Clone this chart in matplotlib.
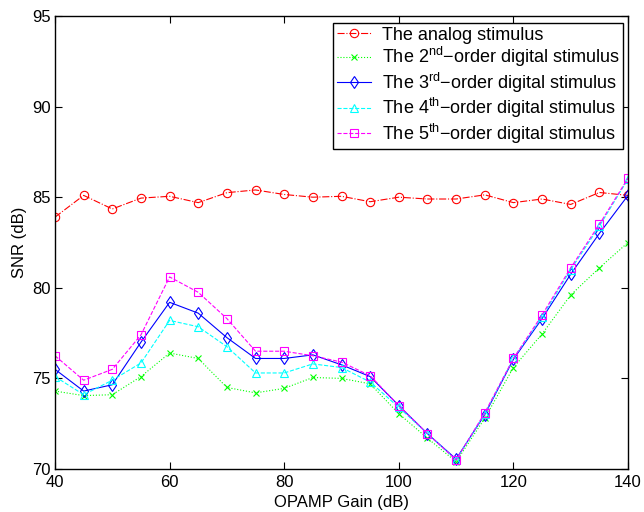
import matplotlib
matplotlib.use('Agg')
import matplotlib.pyplot as plt
import numpy as np

plt.rcParams['font.family'] = ['Liberation Sans', 'DejaVu Sans']
plt.rcParams['mathtext.fontset'] = 'custom'
plt.rcParams['mathtext.rm'] = 'Liberation Sans'
plt.rcParams['mathtext.it'] = 'Liberation Sans:italic'

# OPAMP gain sweep (dB)
gain = [40, 45, 50, 55, 60, 65, 70, 75, 80, 85, 90, 95, 100,
        105, 110, 115, 120, 125, 130, 135, 140]

# SNR (dB) for each stimulus
snr_analog = [83.9, 85.1, 84.35, 84.95, 85.05, 84.7, 85.25, 85.4, 85.15, 85.0, 85.05,
              84.75, 85.0, 84.9, 84.9, 85.13, 84.7, 84.9, 84.6, 85.26, 85.1]
snr_2nd = [74.3, 74.05, 74.1, 75.1, 76.4, 76.1, 74.5, 74.2, 74.45, 75.05, 75.0,
           74.7, 73.05, 71.7, 70.4, 72.8, 75.6, 77.45, 79.6, 81.1, 82.5]
snr_3rd = [75.5, 74.3, 74.65, 77.0, 79.2, 78.6, 77.25, 76.1, 76.1, 76.3, 75.75,
           75.1, 73.5, 71.95, 70.55, 73.0, 76.05, 78.3, 80.75, 83.0, 85.1]
snr_4th = [75.1, 74.1, 74.9, 75.85, 78.2, 77.85, 76.75, 75.3, 75.3, 75.8, 75.6,
           74.8, 73.4, 71.95, 70.5, 73.05, 76.1, 78.4, 81.0, 83.4, 86.0]
snr_5th = [76.25, 74.9, 75.5, 77.4, 80.6, 79.75, 78.3, 76.5, 76.5, 76.25, 75.9,
           75.15, 73.5, 71.95, 70.5, 73.1, 76.1, 78.5, 81.1, 83.5, 86.05]

labels = ['The analog stimulus',
          'The 2$^{\\rm nd}$\u2212order digital stimulus',
          'The 3$^{\\rm rd}$\u2212order digital stimulus',
          'The 4$^{\\rm th}$\u2212order digital stimulus',
          'The 5$^{\\rm th}$\u2212order digital stimulus']

fig = plt.figure(figsize=(6.44, 5.12), dpi=100)
ax = fig.add_axes([55/644, 1 - 469/512, (628 - 55)/644, (469 - 16)/512])

mk = dict(markerfacecolor='none', markersize=6, linewidth=0.8, markeredgewidth=0.8)
ax.plot(gain, snr_analog, '-.o', color='#ff0000', label=labels[0], **mk)
ax.plot(gain, snr_2nd, ':x', color='#00ff00', label=labels[1],
        **dict(mk, markersize=5))
ax.plot(gain, snr_3rd, '-d', color='#0000ff', label=labels[2], **mk)
ax.plot(gain, snr_4th, '--^', color='#00ffff', label=labels[3], **mk)
ax.plot(gain, snr_5th, '--s', color='#ff00ff', label=labels[4], **mk)

ax.set_xlim(40, 140)
ax.set_ylim(70, 95)
ax.set_xticks(np.arange(40, 141, 20))
ax.set_yticks(np.arange(70, 96, 5))
ax.tick_params(direction='in', top=True, right=True, labelsize=12, length=5, width=0.8)
ax.tick_params(axis='x', pad=4)
ax.tick_params(axis='y', pad=3)
for s in ax.spines.values():
    s.set_linewidth(1.0)
ax.set_xlabel('OPAMP Gain (dB)', fontsize=12, labelpad=4)
ax.set_ylabel('SNR (dB)', fontsize=12, labelpad=4)

leg = ax.legend(loc='upper right', bbox_to_anchor=(623/644, 1 - 23/512),
                bbox_transform=fig.transFigure, fontsize=13, handlelength=1.9,
                labelspacing=0.08, handletextpad=0.6, borderpad=0.2,
                fancybox=False, framealpha=1, edgecolor='black', borderaxespad=0)
leg.get_frame().set_linewidth(1.0)

fig.savefig('out.png', dpi=100)
